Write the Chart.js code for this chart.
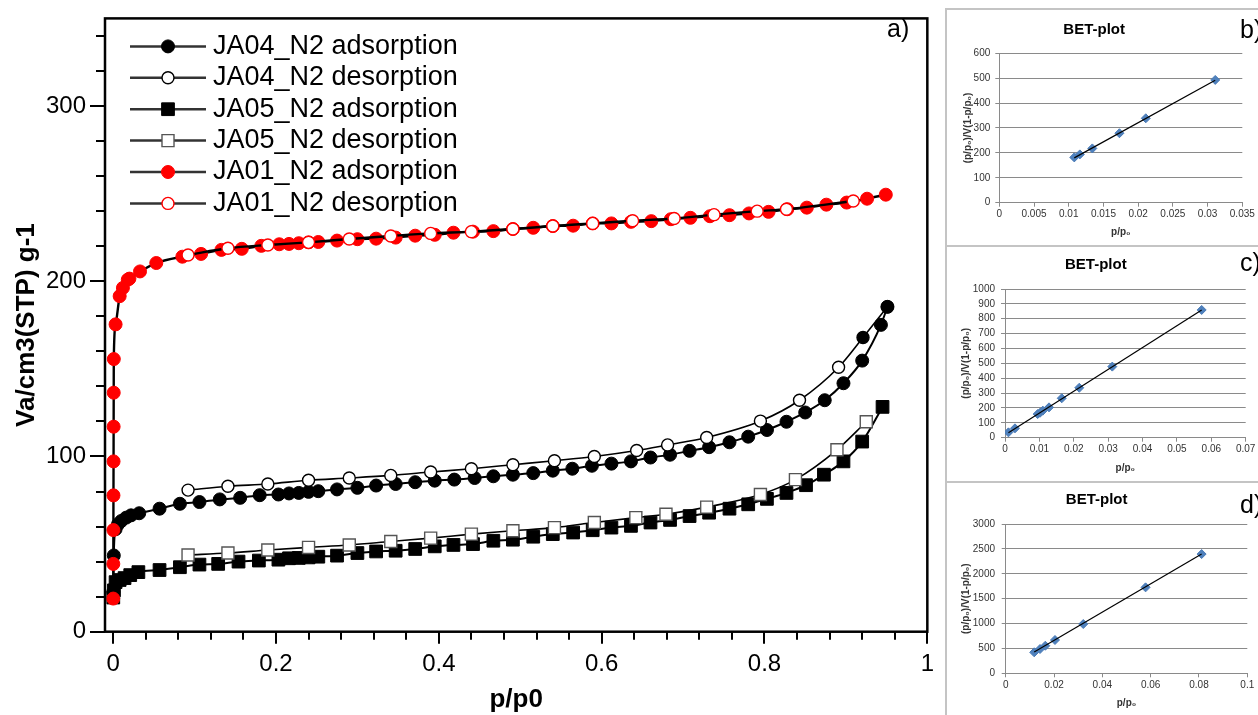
<!DOCTYPE html>
<html>
<head>
<meta charset="utf-8">
<script src="https://cdn.jsdelivr.net/npm/chart.js@4.4.1/dist/chart.umd.min.js"></script>
<style>
html, body { margin: 0; padding: 0; background: #fff; width: 1258px; height: 715px; overflow: hidden; position: relative; font-family: "Liberation Sans", Arial, sans-serif; }
canvas { position: absolute; }
.box { position: absolute; left: 945px; width: 330px; border: 2px solid #c4c4c4; border-right: none; box-sizing: border-box; }
.tag { position: absolute; font-size: 25px; line-height: 25px; color: #000; }
</style>
</head>
<body>
<canvas id="main" width="940" height="715" style="left:0;top:0;width:940px;height:715px"></canvas>
<div class="tag" style="left:887px;top:16px">a)</div>

<div class="box" style="top:8px;height:239px"></div>
<div class="box" style="top:245px;height:238px"></div>
<div class="box" style="top:481px;height:250px"></div>
<canvas id="betB" width="312" height="234" style="left:946px;top:10px;width:312px;height:234px"></canvas>
<canvas id="betC" width="312" height="234" style="left:946px;top:246px;width:312px;height:234px"></canvas>
<canvas id="betD" width="312" height="233" style="left:946px;top:482px;width:312px;height:233px"></canvas>
<div class="tag" style="left:1240px;top:17px">b)</div>
<div class="tag" style="left:1240px;top:250px">c)</div>
<div class="tag" style="left:1240px;top:492px">d)</div>

<script>
// isotherms: relative pressure p/p0 and adsorbed volume (cm3 STP / g)
var ja04AdsP = [0.0002, 0.0008, 0.003, 0.006, 0.010, 0.016, 0.022, 0.032, 0.057, 0.082, 0.106, 0.131, 0.156, 0.180, 0.203, 0.216, 0.228, 0.240, 0.252, 0.275, 0.300, 0.323, 0.347, 0.371, 0.395, 0.419, 0.444, 0.467, 0.491, 0.516, 0.540, 0.564, 0.588, 0.612, 0.636, 0.660, 0.684, 0.708, 0.732, 0.757, 0.780, 0.803, 0.827, 0.850, 0.874, 0.897, 0.920, 0.943, 0.951];
var ja04AdsV = [22.6, 43.5, 58.5, 61.3, 63.2, 65.1, 66.4, 67.6, 70.2, 73.0, 74.0, 75.5, 76.4, 77.9, 78.3, 78.9, 79.2, 79.8, 80.2, 81.2, 82.1, 83.4, 84.3, 85.3, 86.2, 86.8, 87.7, 88.7, 89.6, 90.5, 91.9, 93.0, 94.7, 95.9, 97.2, 99.4, 101.0, 103.2, 105.3, 108.1, 111.3, 115.1, 119.8, 125.1, 132.1, 141.8, 154.7, 175.1, 185.4];
var ja04DesP = [0.092, 0.141, 0.190, 0.240, 0.290, 0.341, 0.390, 0.440, 0.491, 0.542, 0.591, 0.643, 0.681, 0.729, 0.795, 0.843, 0.891, 0.921, 0.951];
var ja04DesV = [80.8, 83.0, 84.3, 86.4, 87.7, 89.2, 91.1, 93.0, 95.3, 97.6, 100.0, 103.4, 106.6, 110.8, 120.2, 132.1, 150.9, 167.9, 185.4];

var ja05AdsP = [0.0002, 0.001, 0.003, 0.008, 0.014, 0.021, 0.031, 0.057, 0.082, 0.106, 0.129, 0.154, 0.179, 0.203, 0.216, 0.228, 0.240, 0.252, 0.275, 0.300, 0.323, 0.347, 0.371, 0.395, 0.418, 0.442, 0.467, 0.491, 0.516, 0.540, 0.565, 0.589, 0.612, 0.636, 0.660, 0.684, 0.708, 0.732, 0.757, 0.780, 0.803, 0.827, 0.851, 0.873, 0.897, 0.920, 0.945];
var ja05AdsV = [19.5, 23.6, 28.3, 29.5, 30.6, 32.3, 34.0, 35.2, 36.8, 38.3, 38.7, 40.0, 40.6, 41.1, 41.9, 42.1, 42.4, 42.8, 43.4, 44.9, 45.8, 46.2, 47.2, 48.7, 49.5, 50.0, 51.9, 52.5, 54.2, 55.7, 56.6, 57.9, 59.4, 60.4, 62.3, 63.8, 66.0, 67.9, 70.2, 72.7, 75.8, 79.2, 83.6, 89.6, 97.2, 108.5, 128.3];
var ja05DesP = [0.092, 0.141, 0.190, 0.240, 0.290, 0.341, 0.390, 0.440, 0.491, 0.542, 0.591, 0.642, 0.679, 0.729, 0.795, 0.838, 0.889, 0.925];
var ja05DesV = [43.8, 44.9, 46.6, 48.1, 49.5, 51.5, 53.4, 55.7, 57.6, 59.4, 62.3, 65.1, 67.0, 71.1, 78.3, 86.8, 103.8, 119.8];

var ja01AdsP = [0.0001, 0.0002, 0.0003, 0.0004, 0.0005, 0.0006, 0.0007, 0.0008, 0.003, 0.008, 0.012, 0.018, 0.020, 0.033, 0.053, 0.085, 0.108, 0.133, 0.158, 0.182, 0.204, 0.216, 0.228, 0.240, 0.252, 0.275, 0.300, 0.323, 0.347, 0.371, 0.395, 0.418, 0.442, 0.467, 0.491, 0.516, 0.540, 0.565, 0.589, 0.612, 0.636, 0.661, 0.685, 0.709, 0.733, 0.757, 0.781, 0.805, 0.828, 0.852, 0.876, 0.901, 0.926, 0.949];
var ja01AdsV = [18.9, 38.7, 58.0, 77.8, 97.2, 117.0, 136.4, 155.6, 175.4, 191.5, 196.2, 200.9, 201.5, 205.6, 210.4, 214.0, 215.6, 217.9, 218.5, 220.2, 221.1, 221.3, 221.7, 222.2, 222.4, 223.2, 224.0, 224.3, 224.9, 226.0, 226.5, 227.7, 228.3, 228.6, 229.8, 230.5, 231.5, 231.7, 233.0, 233.0, 233.9, 234.3, 235.4, 236.2, 237.1, 237.7, 238.7, 239.6, 241.1, 242.0, 243.7, 244.9, 247.1, 249.4];
var ja01DesP = [0.092, 0.141, 0.190, 0.240, 0.290, 0.341, 0.390, 0.440, 0.491, 0.540, 0.589, 0.638, 0.689, 0.738, 0.791, 0.827, 0.909];
var ja01DesV = [215.0, 218.8, 220.7, 222.2, 224.1, 225.8, 227.3, 228.3, 229.8, 231.5, 233.0, 234.5, 235.8, 238.0, 240.0, 241.1, 245.8];

var seriesNames = ['JA04_N2 adsorption', 'JA04_N2 desorption', 'JA05_N2 adsorption', 'JA05_N2 desorption', 'JA01_N2 adsorption', 'JA01_N2 desorption'];

// BET plots: p/p0 and (p/p0)/V(1-p/p0), plus the fitted line ends
var betBP = [0.0108, 0.0116, 0.0134, 0.0173, 0.0211, 0.0311];
var betBV = [182, 194, 218, 279, 339, 493];
var betBFitP = [0.0108, 0.0311];
var betBFitV = [180, 492];
var betCP = [0.0010, 0.0029, 0.0095, 0.0102, 0.0110, 0.0128, 0.0165, 0.0216, 0.0312, 0.0572];
var betCV = [36, 63, 159, 168, 182, 204, 265, 336, 478, 859];
var betCFitP = [0.0010, 0.0572];
var betCFitV = [33, 858];
var betDP = [0.0118, 0.0142, 0.0164, 0.0204, 0.0321, 0.0579, 0.0811];
var betDV = [422, 488, 554, 669, 990, 1727, 2396];
var betDFitP = [0.0118, 0.0811];
var betDFitV = [430, 2396];

var FONT = '"Liberation Sans", Arial, sans-serif';
Chart.defaults.font.family = FONT;
Chart.defaults.color = '#000';

function pts(p, v) {
	return p.map(function(x, i) { return {x: x, y: v[i]}; });
}

function fmt(v) {
	return String(+Number(v).toFixed(4));
}

// draws the chart area frame
var framePlugin = {
	id: 'frame',
	afterDraw: function(chart) {
		var a = chart.chartArea, ctx = chart.ctx;
		ctx.save();
		ctx.strokeStyle = '#000';
		ctx.lineWidth = 2.5;
		ctx.strokeRect(a.left, a.top, a.right - a.left, a.bottom - a.top);
		ctx.restore();
	}
};

// legend inside the plot: line with marker, then the label
var legendPlugin = {
	id: 'insideLegend',
	afterDraw: function(chart) {
		var ctx = chart.ctx, a = chart.chartArea;
		var x0 = a.left + 25, y0 = a.top + 28, rowH = 31.4;
		chart.data.datasets.forEach(function(ds, i) {
			var y = y0 + i * rowH;
			ctx.save();
			ctx.strokeStyle = '#333';
			ctx.lineWidth = 2.5;
			ctx.beginPath();
			ctx.moveTo(x0, y);
			ctx.lineTo(x0 + 76, y);
			ctx.stroke();
			var r = ds.pointRadius, cx = x0 + 38;
			ctx.beginPath();
			if (ds.pointStyle === 'rect') {
				var s = r * Math.SQRT1_2;
				ctx.rect(cx - s, y - s, 2 * s, 2 * s);
			} else {
				ctx.arc(cx, y, r, 0, Math.PI * 2);
			}
			ctx.fillStyle = ds.legendFill;
			ctx.fill();
			ctx.lineWidth = ds.pointBorderWidth;
			ctx.strokeStyle = ds.pointBorderColor;
			ctx.stroke();
			ctx.fillStyle = '#000';
			ctx.font = '27px ' + FONT;
			ctx.textBaseline = 'middle';
			ctx.fillText(ds.label, x0 + 83, y);
			ctx.restore();
		});
	}
};

function isoSet(name, data, style, order) {
	var filled = name.indexOf('adsorption') >= 0;
	var red = name.indexOf('JA01') === 0;
	var col = red ? '#ff0000' : '#000';
	return {
		label: name,
		data: data,
		showLine: true,
		cubicInterpolationMode: 'monotone',
		borderColor: '#000',
		borderWidth: red ? 2.4 : (filled ? 2 : 1.6),
		pointStyle: style,
		pointRadius: style === 'rect' ? (filled ? 9 : 8.5) : (filled ? 6.5 : 6),
		pointBackgroundColor: filled ? col : '#fff',
		legendFill: filled ? col : '#fff',
		pointBorderColor: filled ? col : (style === 'rect' ? '#555' : col),
		pointBorderWidth: filled ? 1 : 1.4,
		order: order
	};
}

var ja04Des = isoSet(seriesNames[1], pts(ja04DesP, ja04DesV), 'circle', 2);
// the two highest desorption points sit on solid markers in the original
ja04Des.pointBackgroundColor = function(c) {
	return c.dataIndex >= ja04DesP.length - 2 ? '#000' : '#fff';
};

var mainChart = new Chart(document.getElementById('main'), {
	type: 'scatter',
	data: {
		datasets: [
			isoSet(seriesNames[0], pts(ja04AdsP, ja04AdsV), 'circle', 3),
			ja04Des,
			isoSet(seriesNames[2], pts(ja05AdsP, ja05AdsV), 'rect', 5),
			isoSet(seriesNames[3], pts(ja05DesP, ja05DesV), 'rect', 4),
			isoSet(seriesNames[4], pts(ja01AdsP, ja01AdsV), 'circle', 1),
			isoSet(seriesNames[5], pts(ja01DesP, ja01DesV), 'circle', 0)
		]
	},
	options: {
		responsive: false,
		animation: false,
		events: [],
		layout: { padding: { top: 14, right: 9.3, left: 0, bottom: 0 } },
		plugins: { legend: { display: false }, tooltip: { enabled: false } },
		scales: {
			// minor ticks (data axes)
			x: {
				type: 'linear', position: 'bottom', weight: 0, min: -0.01, max: 1,
				ticks: { display: false, stepSize: 0.04, includeBounds: false },
				grid: { drawOnChartArea: false, tickLength: 8, lineWidth: 2, color: '#000' },
				border: { display: false },
				afterFit: function(s) { s.height = 0; }
			},
			y: {
				type: 'linear', position: 'left', weight: 0, min: 0, max: 350,
				ticks: { display: false, stepSize: 20, includeBounds: false },
				grid: { drawOnChartArea: false, tickLength: 9, lineWidth: 2, color: '#000' },
				border: { display: false },
				afterFit: function(s) { s.width = 0; }
			},
			// major ticks with labels and titles
			xMaj: {
				type: 'linear', position: 'bottom', weight: 1, min: -0.01, max: 1,
				ticks: { stepSize: 0.2, includeBounds: false, padding: 6, font: { size: 24 }, callback: fmt },
				grid: { drawOnChartArea: false, tickLength: 12, lineWidth: 2, color: '#000' },
				border: { display: false },
				title: { display: true, text: 'p/p0', font: { size: 26, weight: 'bold' }, padding: { top: 0, bottom: 0 } },
				afterFit: function(s) { s.height = 83.3; }
			},
			yMaj: {
				type: 'linear', position: 'left', weight: 1, min: 0, max: 350,
				ticks: { stepSize: 100, includeBounds: false, padding: 4, font: { size: 24 }, callback: fmt },
				grid: { drawOnChartArea: false, tickLength: 15, lineWidth: 2, color: '#000' },
				border: { display: false },
				title: { display: true, text: 'Va/cm3(STP) g-1', font: { size: 26, weight: 'bold' }, padding: { top: 11, bottom: 0 } },
				afterFit: function(s) { s.width = 105; }
			}
		}
	},
	plugins: [framePlugin, legendPlugin]
});

function betChart(id, o) {
	return new Chart(document.getElementById(id), {
		type: 'scatter',
		data: {
			datasets: [
				{
					label: 'fit', data: pts(o.fitP, o.fitV), showLine: true,
					borderColor: '#000', borderWidth: 1.2, pointRadius: 0, order: 0
				},
				{
					label: 'BET', data: pts(o.p, o.v), showLine: false,
					pointStyle: 'rectRot', pointRadius: 4.5,
					pointBackgroundColor: '#4f81bd', pointBorderColor: '#4a7ab5', order: 1
				}
			]
		},
		options: {
			responsive: false,
			animation: false,
			events: [],
			layout: { padding: { top: 0, right: o.padRight, left: 0, bottom: 0 } },
			plugins: {
				legend: { display: false },
				tooltip: { enabled: false },
				title: {
					display: true, text: 'BET-plot', color: '#000',
					font: { size: 15, weight: 'bold' },
					padding: { top: o.titleTop, bottom: o.titleBottom }
				}
			},
			scales: {
				x: {
					type: 'linear', min: 0, max: o.xMax,
					ticks: { stepSize: o.xStep, padding: 2, color: '#333', font: { size: 10 }, callback: fmt, maxRotation: 0, autoSkip: false },
					grid: { drawOnChartArea: false, tickLength: 4, color: '#8a8a8a', lineWidth: 1 },
					border: { color: '#8a8a8a', width: 1 },
					title: { display: true, text: 'p/p\u2080', color: '#333', font: { size: 10, weight: 'bold' }, padding: { top: 0, bottom: 6 } },
					afterFit: function(s) { s.height = o.xAxisH; }
				},
				y: {
					type: 'linear', min: 0, max: o.yMax,
					ticks: { stepSize: o.yStep, padding: o.yPad, color: '#333', font: { size: 10 }, callback: fmt, autoSkip: false },
					grid: { tickLength: 4, color: '#8a8a8a', lineWidth: 1 },
					border: { color: '#8a8a8a', width: 1 },
					title: { display: true, text: '(p/p\u2080)/V(1-p/p\u2080)', color: '#333', font: { size: 10, weight: 'bold' }, padding: { top: o.yTitleOff, bottom: 0 } },
					afterFit: function(s) { s.width = o.yAxisW; }
				}
			}
		}
	});
}

var chartB = betChart('betB', {
	p: betBP, v: betBV, fitP: betBFitP, fitV: betBFitV,
	xMax: 0.035, xStep: 0.005, yMax: 600, yStep: 100,
	yAxisW: 53.3, xAxisH: 41.3, padRight: 15.7, titleTop: 11, titleBottom: 14.3, yPad: 5, yTitleOff: 16
});
var chartC = betChart('betC', {
	p: betCP, v: betCV, fitP: betCFitP, fitV: betCFitV,
	xMax: 0.07, xStep: 0.01, yMax: 1000, yStep: 100,
	yAxisW: 59, xAxisH: 42.3, padRight: 12.3, titleTop: 10, titleBottom: 15, yPad: 6, yTitleOff: 14.7
});
var chartD = betChart('betD', {
	p: betDP, v: betDV, fitP: betDFitP, fitV: betDFitV,
	xMax: 0.1, xStep: 0.02, yMax: 3000, yStep: 500,
	yAxisW: 59.7, xAxisH: 41.7, padRight: 10.7, titleTop: 9, titleBottom: 15, yPad: 6.7, yTitleOff: 14.7
});
</script>
</body>
</html>
